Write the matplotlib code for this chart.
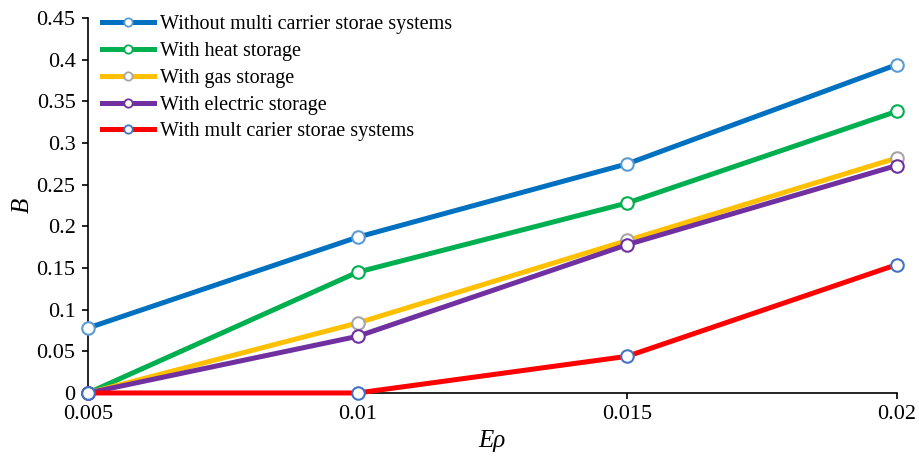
import matplotlib
matplotlib.use("Agg")
import matplotlib.pyplot as plt

x_values = [0.005, 0.01, 0.015, 0.02]
series_names = [
    "Without multi carrier storae systems",
    "With heat storage",
    "With gas storage",
    "With electric storage",
    "With mult carier storae systems",
]
without_storage = [0.078, 0.187, 0.275, 0.394]
heat_storage = [0.0, 0.145, 0.228, 0.338]
gas_storage = [0.0, 0.084, 0.183, 0.282]
electric_storage = [0.0, 0.068, 0.178, 0.273]
multi_storage = [0.0, 0.0, 0.044, 0.154]
y_ticks = [0, 0.05, 0.1, 0.15, 0.2, 0.25, 0.3, 0.35, 0.4, 0.45]
y_tick_labels = ["0", "0.05", "0.1", "0.15", "0.2", "0.25", "0.3", "0.35", "0.4", "0.45"]
x_tick_labels = ["0.005", "0.01", "0.015", "0.02"]

line_colors = ["#0070C0", "#00B050", "#FFC000", "#7030A0", "#FF0000"]
marker_edges = ["#5B9BD5", "#00B050", "#A5A5A5", "#7030A0", "#4472C4"]

plt.rcParams["font.family"] = ["Liberation Serif", "DejaVu Serif"]

fig = plt.figure(figsize=(9.19, 4.62), dpi=100)
ax = fig.add_axes([0.0958, 0.1494, 0.880, 0.8116])

all_series = [without_storage, heat_storage, gas_storage, electric_storage, multi_storage]
for name, vals, lc, mc in zip(series_names, all_series, line_colors, marker_edges):
    ax.plot(x_values, vals, color=lc, lw=3.6, marker="o", markersize=9,
            markerfacecolor="white", markeredgecolor=mc, markeredgewidth=1.5,
            label=name, clip_on=False, zorder=3)

ax.set_xlim(0.005, 0.02)
ax.set_ylim(0, 0.45)
ax.set_yticks(y_ticks)
ax.set_yticklabels(y_tick_labels)
ax.set_xticks(x_values)
ax.set_xticklabels(x_tick_labels)
ax.tick_params(axis="both", labelsize=16, direction="out", length=4, width=1.2, colors="black")
ax.tick_params(axis="x", pad=5)
ax.tick_params(axis="y", pad=5)
for s in ["top", "right"]:
    ax.spines[s].set_visible(False)
for s in ["left", "bottom"]:
    ax.spines[s].set_linewidth(1.2)

ax.set_ylabel("B", fontsize=18, style="italic", labelpad=2)
ax.set_xlabel("Eρ", fontsize=18, style="italic", labelpad=4)

leg = ax.legend(loc="upper left", bbox_to_anchor=(0.0, 1.045), frameon=False, fontsize=14.5,
                handlelength=2.6, labelspacing=0.38, handletextpad=0.25, borderaxespad=0.3)
for h in leg.legend_handles:
    h.set_markersize(6)
    h.set_markeredgewidth(1.3)

fig.savefig("out.png", dpi=100)
